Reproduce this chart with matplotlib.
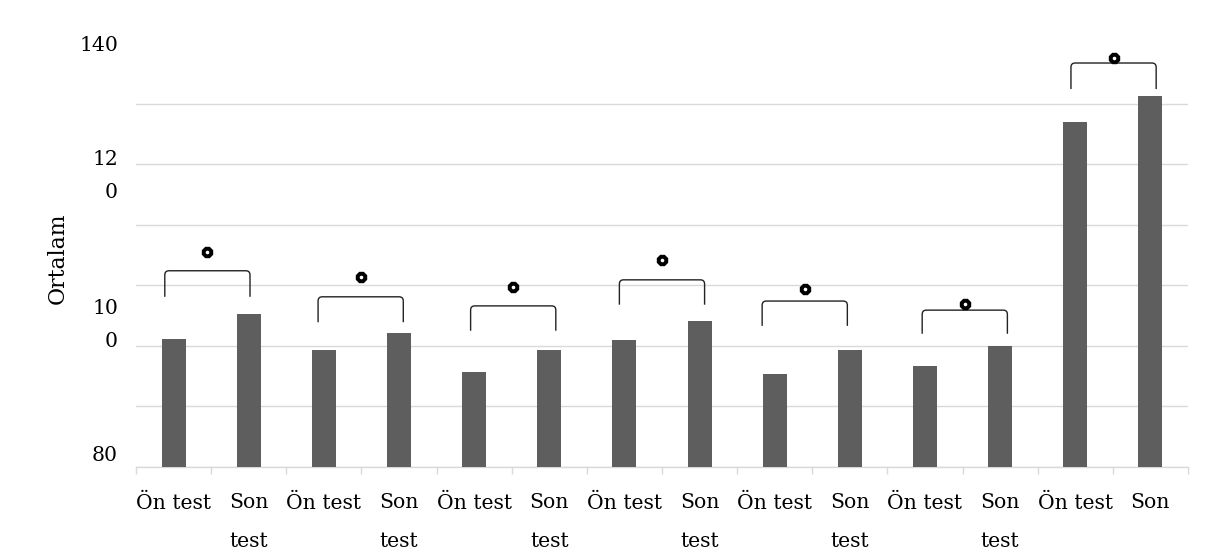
import matplotlib.pyplot as plt
import numpy as np
from matplotlib.path import Path
from matplotlib.patches import PathPatch

plt.rcParams['font.family'] = ['DejaVu Serif']

# Data ------------------------------------------------------------------------

labels = ['Ön test', 'Son\ntest'] * 6 + ['Ön test', 'Son']
means = [91.1, 95.3, 89.3, 92.1, 85.7, 89.3, 91.0, 94.1,
         85.4, 89.3, 86.7, 90.0, 127.0, 131.3]

# significance brackets (one per pre/post pair)
bracket_top = [102.4, 98.1, 96.6, 100.9, 97.4, 95.9, 136.7]
bracket_bottom = [98.1, 93.9, 92.5, 96.8, 93.3, 92.0, 132.4]
star_y = [105.5, 101.4, 99.7, 104.2, 99.4, 96.9, 137.5]
bracket_shift = [-0.05, -0.01, 0.02, 0.0, -0.1, 0.03, 0.01]

ytick_pos = [140, 119.6, 94.9, 72.3]
ytick_labels = ['140', '12\n0', '10\n0', '80']

# Plot ------------------------------------------------------------------------

fig = plt.figure(figsize=(12.08, 5.53), dpi=100)
ax = fig.add_axes([0.1126, 0.1555, 0.8708, 0.7667])

x = np.arange(len(means)) + 0.5
ax.bar(x, np.array(means) - 70, bottom=70, width=0.32, color='#5e5e5e', zorder=3)

ax.set_xlim(0, len(means))
ax.set_ylim(70, 140)

# gridlines on minor ticks, labels on major ticks
ax.set_yticks(np.arange(70, 141, 10), minor=True)
ax.set_yticks(ytick_pos)
ax.set_yticklabels(ytick_labels, fontsize=14.7, linespacing=1.95)
ax.grid(True, which='minor', axis='y', color='#d9d9d9', linewidth=1.0, zorder=0)
ax.tick_params(axis='y', which='both', length=0, pad=13)

ax.set_xticks(np.arange(len(means) + 1), minor=True)
ax.set_xticks(x)
ax.set_xticklabels(labels, fontsize=14.7, linespacing=2.3, va='top')
ax.tick_params(axis='x', which='major', length=0, pad=19)
ax.tick_params(axis='x', which='minor', length=5, color='#d9d9d9', width=1.0)

for s in ['top', 'right', 'left']:
    ax.spines[s].set_visible(False)
ax.spines['bottom'].set_color('#d9d9d9')
ax.spines['bottom'].set_linewidth(1.0)

ax.set_ylabel('Ortalam', fontsize=15.8)
ax.yaxis.set_label_coords(-0.064, 0.493)

# brackets with stars
rx, ry = 0.055, 0.7
for i in range(len(bracket_top)):
    xc = x[2 * i] + 0.5 + bracket_shift[i]
    x0, x1 = xc - 0.567, xc + 0.567
    yt, yb = bracket_top[i], bracket_bottom[i]
    verts = [(x0, yb), (x0, yt - ry), (x0, yt), (x0 + rx, yt),
             (x1 - rx, yt), (x1, yt), (x1, yt - ry), (x1, yb)]
    codes = [Path.MOVETO, Path.LINETO, Path.CURVE3, Path.CURVE3,
             Path.LINETO, Path.CURVE3, Path.CURVE3, Path.LINETO]
    ax.add_patch(PathPatch(Path(verts, codes), fill=False, edgecolor='#222222',
                           linewidth=1.0, zorder=4))
    ax.plot(xc, star_y[i], marker='8', markersize=7.5, color='black', zorder=5)
    ax.plot(xc, star_y[i], marker='o', markersize=2.6, color='white',
            markeredgewidth=0, zorder=6)

plt.savefig('out.png', dpi=100)
